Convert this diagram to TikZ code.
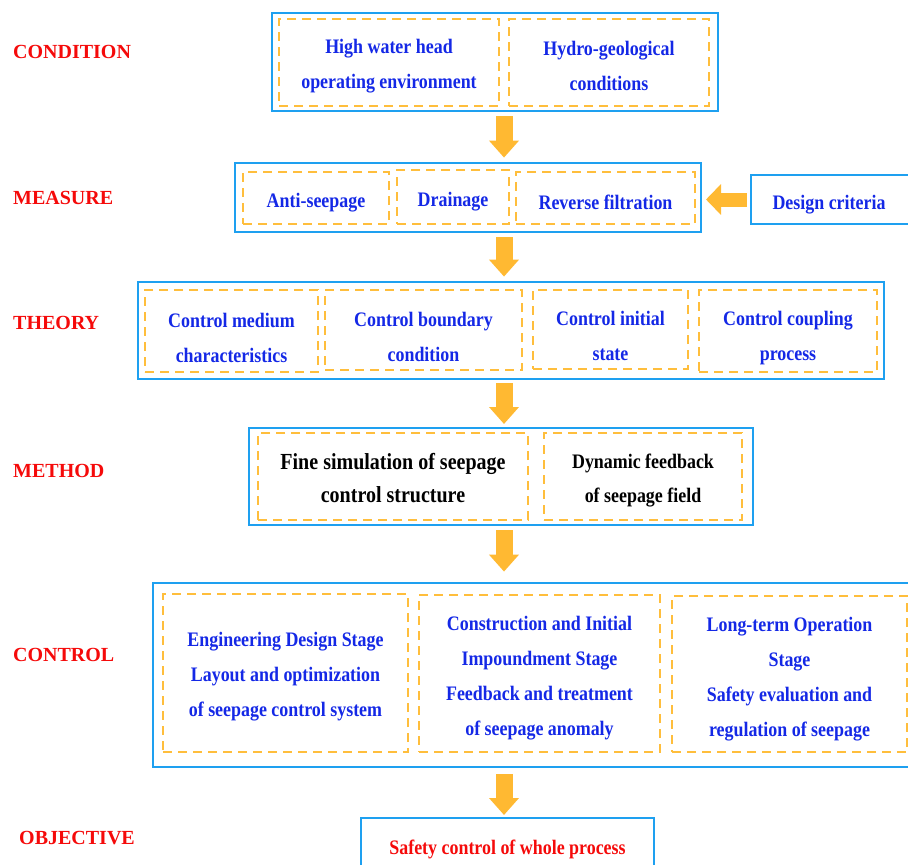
\documentclass[tikz,border=0pt]{standalone}
\usepackage{fontspec}
\setmainfont{Liberation Serif}
\newfontfamily\boxfont[FakeStretch=0.87]{Liberation Serif}
\usetikzlibrary{arrows.meta}
\definecolor{frameblue}{RGB}{30,160,240}
\definecolor{dashorange}{RGB}{255,190,60}
\definecolor{fatorange}{RGB}{255,185,50}
\definecolor{textblue}{RGB}{20,40,230}
\definecolor{labelred}{RGB}{245,10,10}
\tikzset{
  lbl/.style={anchor=west,inner sep=0pt,text=labelred,font=\fontsize{20}{24}\selectfont\bfseries},
  frame/.style={draw=frameblue,line width=2.8pt,inner sep=0pt},
  dbox/.style={draw=dashorange,line width=2.4pt,dash pattern=on 9pt off 6pt,inner sep=0pt,align=center,
    text height=24pt,text=textblue,font=\boxfont\fontsize{20.6}{35}\selectfont\bfseries},
  fat/.style={draw=fatorange,line width=17pt,-{Triangle[width=29pt,length=17pt]},shorten <=4pt,shorten >=4pt}
}
\begin{document}
\begin{tikzpicture}[x=1pt,y=-1pt]
\useasboundingbox (0,0) rectangle (908,865);
\coordinate (ax) at (504,0);

\node[lbl] (lcond) at (13,52) {CONDITION};
\node[lbl] (lmeas) at (13,198) {MEASURE};
\node[lbl] (ltheo) at (13,323) {THEORY};
\node[lbl] (lmeth) at (13,471) {METHOD};
\node[lbl] (lctrl) at (13,655) {CONTROL};
\node[lbl] (lobj) at (19,838) {OBJECTIVE};

\node[frame,minimum width=446pt,minimum height=98pt] (cond) at (495,62) {};
\node[dbox,text height=57pt,minimum width=220pt,minimum height=87pt] (head) at (389,62.5) {High water head\\operating environment};
\node[dbox,text height=57pt,minimum width=200pt,minimum height=87pt] (geo) at (609,62.5) {Hydro-geological\\conditions};

\node[frame,minimum width=466pt,minimum height=69pt] (meas) at (468,197.5) {};
\node[dbox,minimum width=146pt,minimum height=52pt] (anti) at (316,198) {Anti-seepage};
\node[dbox,minimum width=112pt,minimum height=54pt] (drain) at (453,197) {Drainage};
\node[dbox,minimum width=179pt,minimum height=52pt] (filt) at (605.5,198) {Reverse filtration};
\node[frame,line width=2.4pt,minimum width=162pt,minimum height=49pt,text height=24pt,text=textblue,
  font=\boxfont\fontsize{20.6}{35}\selectfont\bfseries] (crit) at (832,199.5) {\hspace*{-6pt}Design criteria};

\node[frame,minimum width=746pt,minimum height=97pt] (theo) at (511,330.5) {};
\node[dbox,text height=63pt,minimum width=173pt,minimum height=82pt] (medium) at (231.5,331) {Control medium\\characteristics};
\node[dbox,text height=63pt,minimum width=197pt,minimum height=80pt] (bound) at (423.5,330) {Control boundary\\condition};
\node[dbox,text height=63pt,minimum width=155pt,minimum height=79pt] (init) at (610.5,329.5) {Control initial\\state};
\node[dbox,text height=63pt,minimum width=178pt,minimum height=82pt] (coup) at (788,331) {Control coupling\\process};

\node[frame,minimum width=504pt,minimum height=97pt] (meth) at (501,476.5) {};
\node[dbox,text height=53pt,minimum width=270pt,minimum height=87pt,text=black,
  font=\boxfont\fontsize{23}{33}\selectfont\bfseries] (fine) at (393,476.5) {Fine simulation of seepage\\control structure};
\node[dbox,text height=56pt,minimum width=198pt,minimum height=87pt,text=black,
  font=\boxfont\fontsize{20.6}{34}\selectfont\bfseries] (dyn) at (643,476.5) {Dynamic feedback\\of seepage field};

\node[frame,minimum width=764pt,minimum height=184pt] (ctrl) at (535,675) {};
\node[dbox,text height=92pt,minimum width=245pt,minimum height=158pt] (design) at (285.5,673) {Engineering Design Stage\\Layout and optimization\\of seepage control system};
\node[dbox,text height=129pt,minimum width=241pt,minimum height=157pt] (constr) at (539.5,673.5) {Construction and Initial\\Impoundment Stage\\Feedback and treatment\\of seepage anomaly};
\node[dbox,text height=129pt,minimum width=235pt,minimum height=156pt] (oper) at (789.5,674) {Long-term Operation\\Stage\\Safety evaluation and\\regulation of seepage};

\node[frame,minimum width=293pt,minimum height=64pt,text=labelred,
  font=\boxfont\fontsize{20.6}{35}\selectfont\bfseries] (obj) at (507.5,850) {\raisebox{-4pt}[0pt][0pt]{Safety control of whole process}};

\draw[fat] (cond.south -| ax) -- (meas.north -| ax);
\draw[fat] (meas.south -| ax) -- (theo.north -| ax);
\draw[fat,shorten <=2.6pt,shorten >=2.6pt] (theo.south -| ax) -- (meth.north -| ax);
\draw[fat,shorten >=10pt] (meth.south -| ax) -- (ctrl.north -| ax);
\draw[fat,shorten <=5.5pt,shorten >=1.6pt] (ctrl.south -| ax) -- (obj.north -| ax);
\draw[fat,line width=14pt,-{Triangle[width=30pt,length=15pt]},shorten <=2.6pt,shorten >=3.6pt]
  (crit.west) -- (meas.east |- crit.west);
\end{tikzpicture}
\end{document}
